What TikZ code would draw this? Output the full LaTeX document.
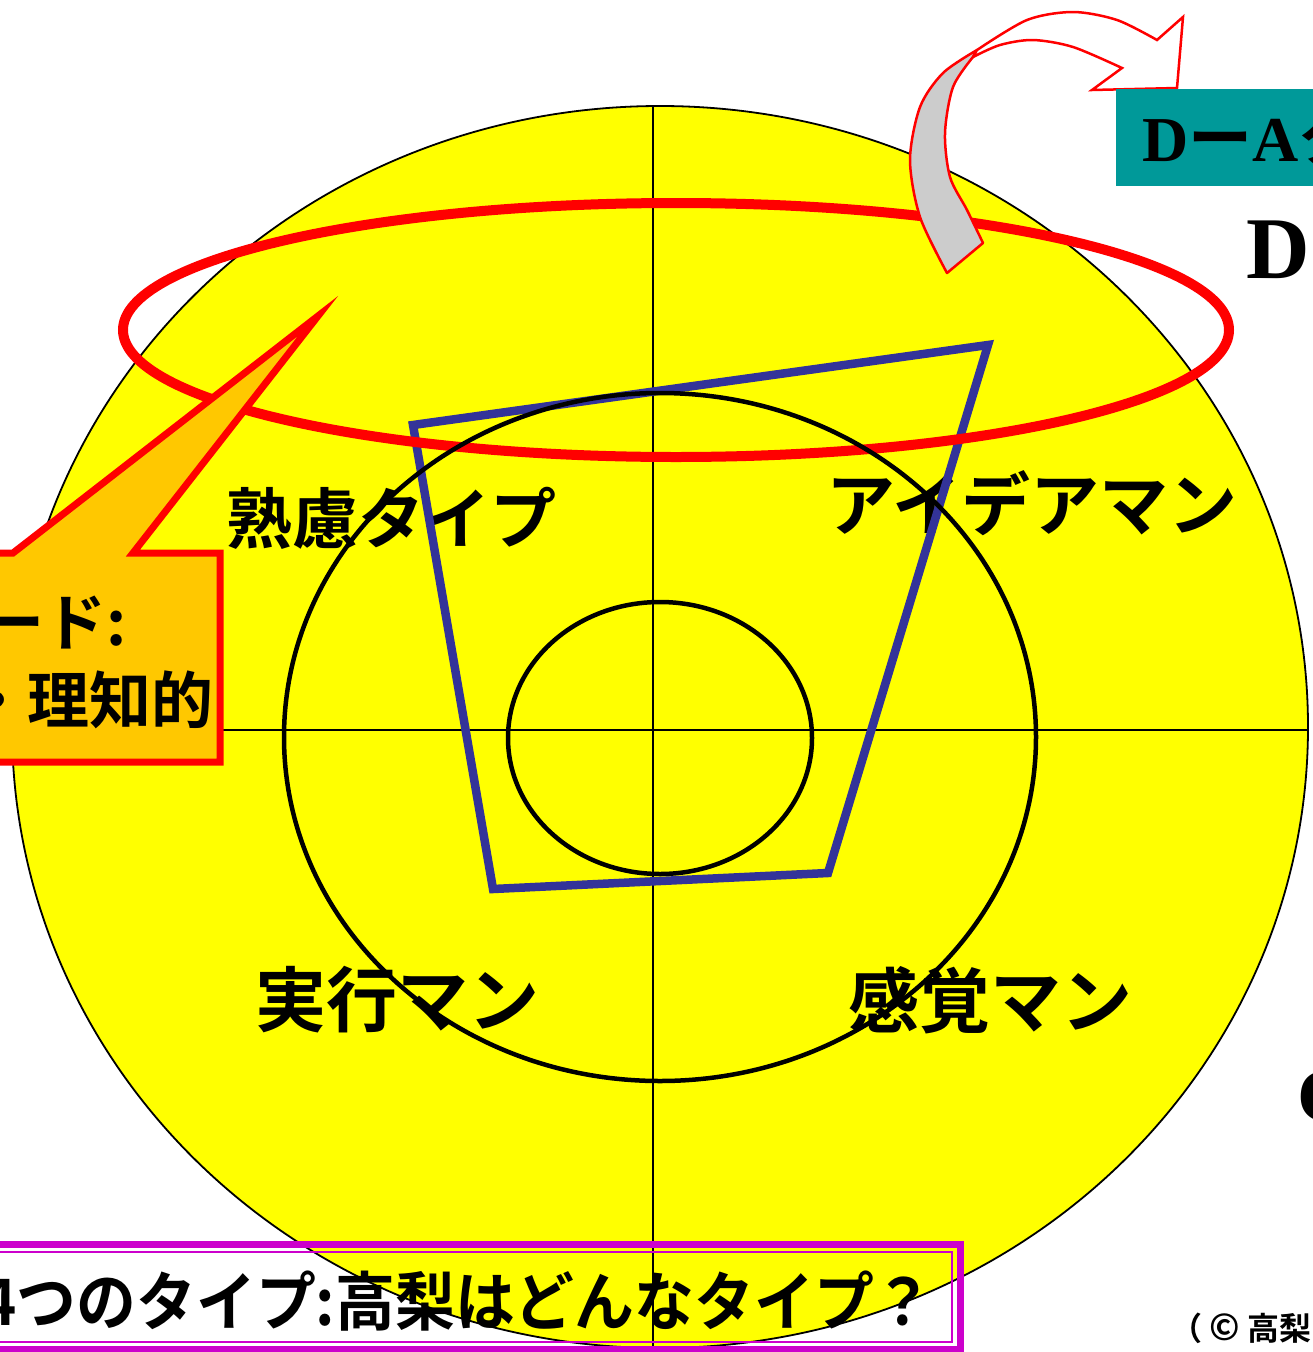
\documentclass[tikz,border=0pt]{standalone}
\usepackage{fontspec}
\newfontfamily\jp{Noto Sans CJK JP}[BoldFont={Noto Sans CJK JP Bold}]
\newfontfamily\ser{Liberation Serif}
\definecolor{cyellow}{HTML}{FFFF00}
\definecolor{cblue}{HTML}{333399}
\definecolor{cred}{HTML}{FF0000}
\definecolor{corange}{HTML}{FFC800}
\definecolor{cmag}{HTML}{CC00CC}
\definecolor{cteal}{HTML}{009999}
\definecolor{cgray}{HTML}{CCCCCC}
\tikzset{
  lbl/.style={font=\jp\bfseries\fontsize{66}{70}\selectfont, inner sep=0pt},
  calltext/.style={font=\jp\bfseries\fontsize{62}{66}\selectfont, inner sep=0pt},
  ring/.style={draw=black, line width=4.5pt},
  axis/.style={draw=black, line width=2pt},
}
\begin{document}
\begin{tikzpicture}[x=1pt,y=-1pt]
\useasboundingbox (0,0) rectangle (1313,1352);
\clip (0,0) rectangle (1313,1352);
\fill[white] (0,0) rectangle (1313,1352);
% big yellow disc
\draw[fill=cyellow, line width=1.8pt] (660,727) ellipse [x radius=648, y radius=621];
\begin{scope}
  \clip (660,727) ellipse [x radius=648, y radius=621];
  \draw[axis] (653,0) -- (653,1400);
  \draw[axis] (0,730) -- (1313,730);
\end{scope}
% labels
\node[lbl] (tjuku) at (391,518) {熟慮タイプ};
\node[lbl, font=\jp\bfseries\fontsize{69}{72}\selectfont] (tidea) at (1032,503) {アイデアマン};
\node[lbl, font=\jp\bfseries\fontsize{71}{74}\selectfont] (tjikko) at (397,1000) {実行マン};
\node[lbl, font=\jp\bfseries\fontsize{71}{74}\selectfont] (tkankaku) at (990,1000) {感覚マン};
% blue quadrilateral
\draw[cblue, line width=8.5pt, line join=miter] (413,425) -- (988,345) -- (828,873) -- (493,889) -- cycle;
% red ellipse
\draw[cred, line width=10pt] (676,330) ellipse [x radius=553, y radius=127];
% black rings
\draw[ring] (660,737) ellipse [x radius=376, y radius=344];
\draw[ring] (660,738) ellipse [x radius=152, y radius=136];
% callout
\draw[fill=corange, draw=cred, line width=7pt, line join=miter, miter limit=20]
  (-20,553) -- (13,553) -- (318,316) -- (133,553) -- (220,553) -- (220,762) -- (-20,762) -- cycle;
\node[calltext, anchor=east] (c1) at (127,623) {ード:};
\node[calltext, anchor=east] (c2) at (214,700) {・理知的};
% curved 3D arrow
\draw[fill=cgray, draw=cred, line width=2.5pt, line join=round]
  plot[smooth] coordinates {(947,273) (920,217) (910,160) (920,107) (943,73) (977,50)}
  -- plot[smooth] coordinates {(973,57) (953,87) (945,133) (950,177) (967,210) (983,243)}
  -- cycle;
\draw[fill=white, draw=cred, line width=2.5pt, line join=miter]
  plot[smooth] coordinates {(977,50) (1027,20) (1073,12) (1117,20) (1157,40)}
  -- (1183,17) -- (1177,88) -- (1092,90) -- (1122,68)
  -- plot[smooth] coordinates {(1122,68) (1073,47) (1033,40) (1000,45) (973,57)}
  -- cycle;
% teal box
\fill[cteal] (1116,89) rectangle (1330,186);
\node[inner sep=0pt, anchor=base west, font=\ser\bfseries\fontsize{64}{70}\selectfont] (da) at (1142,161) {D{\jp\bfseries ー}A{\jp\bfseries タ}};
% right-side letters
\node[inner sep=0pt, anchor=base west, font=\ser\bfseries\fontsize{88}{90}\selectfont] (bigD) at (1246,278) {D};
\node[inner sep=0pt, anchor=base west, font=\ser\bfseries\fontsize{76}{80}\selectfont] (bigC) at (1297,1121) {C};
% bottom box
\draw[cmag, line width=7pt] (-10,1244) rectangle (960,1349);
\draw[cmag, line width=2pt] (-10,1252) rectangle (952,1342);
\node[inner sep=0pt, anchor=east, font=\jp\bfseries\fontsize{64}{66}\selectfont, xscale=0.935] (qtext) at (934,1301) {4つのタイプ:高梨はどんなタイプ？};
% copyright
\node[inner sep=0pt, anchor=base west, font=\jp\bfseries\fontsize{32}{36}\selectfont] (copy) at (1170,1340) {（ {\fontsize{36}{36}\selectfont ©} 高梨};
\end{tikzpicture}
\end{document}
